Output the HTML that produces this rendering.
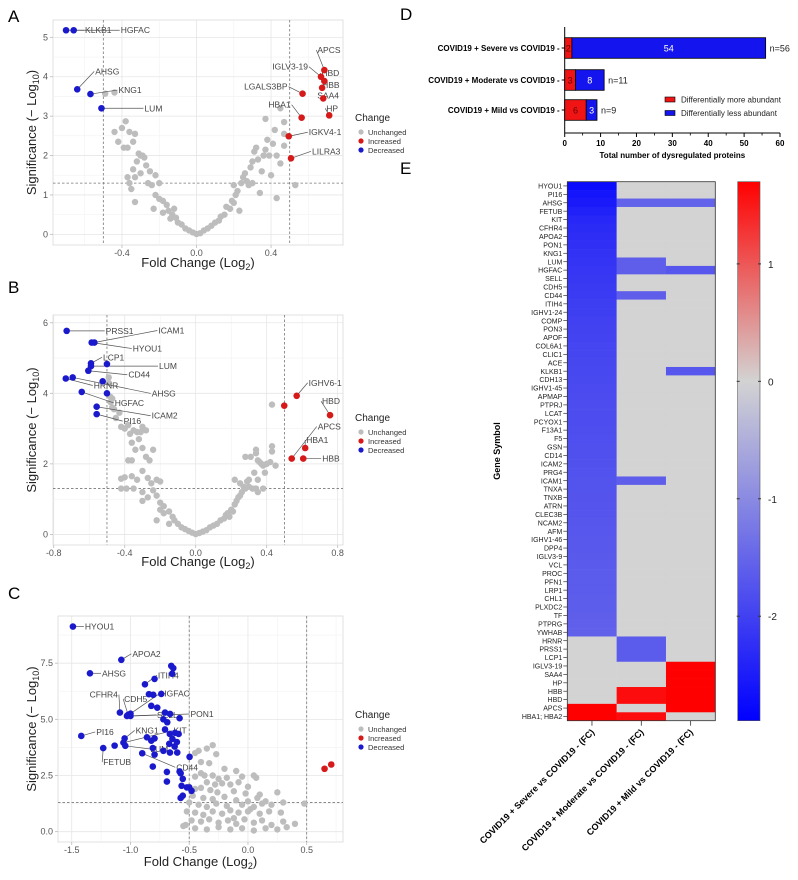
<!DOCTYPE html>
<html><head><meta charset="utf-8"><style>
body{margin:0;background:#fff;}
svg{display:block;font-family:"Liberation Sans",Arial,sans-serif;}
</style></head><body>
<svg id="fig" width="798" height="880" viewBox="0 0 798 880" xmlns="http://www.w3.org/2000/svg"></svg>
<script>
// ---------- Panel A data ----------
const aBlueX=[-0.70,-0.659,-0.64,-0.569,-0.51];
const aBlueY=[5.18,5.18,3.68,3.56,3.2];
const aBlueNames=["KLKB1","HGFAC","AHSG","KNG1","LUM"];
const aRedX=[0.686,0.668,0.686,0.674,0.68,0.569,0.712,0.564,0.495,0.507];
const aRedY=[4.17,4.0,3.89,3.72,3.45,3.57,3.02,2.96,2.49,1.93];
const aRedNames=["APCS","IGLV3-19","HBD","HBB","SAA4","LGALS3BP","HP","HBA1","IGKV4-1","LILRA3"];
const aGreyX=[-0.38,-0.4,-0.44,-0.36,-0.42,-0.39,-0.37,-0.34,-0.33,-0.31,-0.3,-0.29,-0.28,-0.32,-0.27,-0.34,-0.37,-0.33,-0.36,-0.25,-0.22,-0.3,-0.35,-0.33,-0.26,-0.24,-0.2,-0.22,-0.2,-0.23,-0.18,-0.16,-0.18,-0.15,-0.13,-0.14,-0.11,-0.1,-0.08,-0.06,-0.04,-0.02,0,-0.12,-0.49,-0.44,
0.02,0.04,0.06,0.08,0.1,0.12,0.13,0.15,0.16,0.18,0.19,0.2,0.21,0.22,0.23,0.2,0.24,0.25,0.26,0.27,0.28,0.29,0.3,0.31,0.32,0.3,0.33,0.34,0.35,0.36,0.37,0.38,0.39,0.37,0.4,0.41,0.42,0.43,0.43,0.45,0.47,0.47,0.47,0.53,0.45];
const aGreyY=[2.87,2.7,2.6,2.6,2.35,2.2,2.2,2.35,2.55,2.05,2.0,2.0,1.95,1.85,1.75,1.65,1.45,1.45,1.3,1.6,1.5,1.55,1.15,0.82,1.3,1.25,1.3,1.0,0.9,0.65,0.85,0.75,0.55,0.6,0.5,0.4,0.42,0.3,0.25,0.15,0.1,0.05,0.01,0.65,3.57,3.6,
0.03,0.1,0.15,0.22,0.3,0.35,0.45,0.5,0.7,0.65,0.85,0.8,1.0,1.1,0.6,1.25,1.3,1.45,1.55,1.35,1.25,1.7,1.85,2.1,2.2,1.3,1.9,1.05,1.6,2.0,2.15,2.4,2.0,2.93,1.5,2.3,2.65,2.0,0.92,3.2,2.85,2.25,2.55,1.25,1.8];
const aXTicks=[-0.4,0.0,0.4];
const aXTickLabels=["-0.4","0.0","0.4"];
const aYTicks=[0,1,2,3,4,5];
const aYTickLabels=["0","1","2","3","4","5"];
// label offsets (px) per labelled point
const aLabels=[["KLKB1",19,0,"start",0],["HGFAC",47,0,"start",1],["AHSG",18,-18,"start",2],["KNG1",28,-4,"start",3],["LUM",43,0,"start",4]];
const aLabelsR=[["APCS",-7,-20,"start",0],["IGLV3-19",-13,-10,"end",1],["HBD",-3,-8,"start",2],["HBB",0,-3,"start",3],["SAA4",-6,-3,"start",4],["LGALS3BP",-15,-7,"end",5],["HP",-3,-7,"start",6],["HBA1",-11,-13,"end",7],["IGKV4-1",20,-4,"start",8],["LILRA3",21,-7,"start",9]];

// ---------- Panel B data ----------
const bBlueX=[-0.727,-0.571,-0.586,-0.59,-0.59,-0.50,-0.605,-0.732,-0.693,-0.524,-0.50,-0.642,-0.558,-0.558];
const bBlueY=[5.77,5.44,5.44,4.85,4.77,4.83,4.64,4.42,4.45,4.34,4.0,4.04,3.62,3.41];
const bRedX=[0.569,0.499,0.757,0.541,0.617,0.606];
const bRedY=[3.93,3.65,3.38,2.15,2.45,2.15];
const bGreyX=[0.43,-0.49,-0.49,-0.48,-0.47,-0.46,-0.45,-0.43,-0.42,-0.40,-0.38,-0.37,-0.35,-0.33,-0.31,-0.3,-0.28,-0.36,-0.34,-0.32,-0.3,-0.28,-0.26,-0.24,-0.38,-0.36,-0.42,-0.40,-0.36,-0.33,-0.3,-0.27,-0.25,-0.22,-0.2,-0.42,-0.39,-0.35,-0.3,-0.27,-0.3,-0.24,-0.22,-0.2,-0.18,-0.2,-0.18,-0.15,-0.13,-0.12,-0.1,-0.08,-0.06,-0.04,-0.02,0,-0.22,-0.15,-0.48,-0.47,
0.02,0.04,0.06,0.08,0.1,0.12,0.14,0.16,0.17,0.18,0.19,0.2,0.21,0.22,0.23,0.24,0.25,0.26,0.27,0.28,0.29,0.3,0.22,0.25,0.3,0.32,0.34,0.35,0.38,0.35,0.33,0.28,0.31,0.34,0.35,0.36,0.37,0.34,0.38,0.39,0.4,0.42,0.43,0.43,0.45];
const bGreyY=[3.68,4.45,4.3,3.9,3.85,3.55,3.3,3.45,3.05,3.0,3.1,2.85,2.95,2.9,2.9,3.05,2.95,2.6,2.4,2.7,2.45,2.2,2.1,2.4,2.1,2.1,1.58,1.62,1.65,1.55,1.8,1.6,1.45,1.55,1.5,1.3,1.3,1.3,1.2,1.05,0.95,1.25,1.1,0.9,0.8,0.7,0.6,0.65,0.5,0.4,0.3,0.2,0.15,0.1,0.05,0.01,0.4,0.3,3.75,3.6,
0.04,0.08,0.12,0.2,0.25,0.3,0.4,0.45,0.55,0.6,0.5,0.7,0.65,0.85,0.95,1.05,1.1,1.2,1.35,1.3,1.5,1.35,1.55,1.45,1.55,1.3,1.3,1.2,1.3,1.55,1.75,2.2,2.2,2.3,2.1,2.05,2.0,2.4,1.95,1.75,2.0,2.05,2.5,2.35,1.95];
const bXTicks=[-0.8,-0.4,0.0,0.4,0.8];
const bXTickLabels=["-0.8","-0.4","0.0","0.4","0.8"];
const bYTicks=[0,2,4,6];
const bYTickLabels=["0","2","4","6"];
const bLabels=[["PRSS1",39,0,"start",0],["ICAM1",64,-12,"start",1],["HYOU1",41,6,"start",2],["LCP1",12,-6,"start",3],["LUM",68,0,"start",4],["CD44",40,4,"start",6],["HRNR",28,7,"start",7],["AHSG",79,16,"start",8],["HGFAC",33,11,"start",11],["ICAM2",55,9,"start",12],["PI16",27,7,"start",13]];
const bLabelsR=[["IGHV6-1",12,-13,"start",0],["HBD",-8,-14,"start",2],["APCS",26,-32,"start",3],["HBA1",1,-8,"start",4],["HBB",19,0,"start",5]];

// ---------- Panel C data ----------
const cBlueX=[-1.49,-1.078,-1.345,-0.653,-0.636,-0.645,-0.795,-0.877,-0.843,-0.806,-0.738,-0.823,-0.772,-1.09,-1.02,-1.0,-1.03,-1.0,-0.663,-0.706,-0.582,-0.72,-0.687,-1.419,-1.05,-1.06,-1.044,-1.135,-1.232,-0.706,-0.62,-0.59,-0.665,-0.643,-0.86,-0.795,-0.823,-0.605,-0.67,-0.624,-0.81,-0.72,-0.664,-0.602,-0.9,-0.795,-0.497,-0.81,-0.582,-0.69,-0.573,-0.555,-0.69,-0.565,-0.52,-0.5,-0.48,-0.555,-0.573];
const cBlueY=[9.13,7.65,7.05,7.38,7.28,7.03,6.8,6.56,6.12,6.09,6.13,5.6,5.52,5.3,5.2,5.25,5.15,5.15,5.24,5.3,5.05,5.0,4.87,4.26,4.15,3.96,3.82,3.83,3.72,4.55,4.4,4.35,4.35,4.13,4.2,4.15,4.05,3.99,3.91,3.79,3.72,3.6,3.52,3.52,3.49,3.43,3.33,2.9,2.68,2.66,2.6,2.35,2.23,2.04,1.97,1.97,1.82,1.6,1.5];
const cRedX=[0.652,0.709];
const cRedY=[2.8,2.99];
const cGreyX=[-0.3,-0.42,-0.45,-0.35,-0.27,-0.4,-0.33,-0.2,-0.1,-0.3,-0.45,-0.4,-0.37,-0.25,-0.18,-0.05,0.05,0.07,-0.35,-0.28,-0.22,-0.15,-0.08,-0.5,-0.45,-0.4,-0.32,-0.26,-0.12,-0.02,0.1,0.25,-0.47,-0.38,-0.3,-0.2,-0.1,0.0,0.08,0.15,-0.5,-0.42,-0.35,-0.27,-0.18,-0.05,0.05,0.12,0.2,0.3,0.48,-0.52,-0.45,-0.38,-0.3,-0.22,-0.15,-0.08,0.0,0.1,0.18,0.28,-0.53,-0.48,-0.4,-0.33,-0.25,-0.17,-0.1,-0.03,0.05,0.12,0.2,0.3,0.4,-0.45,-0.35,-0.25,-0.15,-0.05,0.05,0.15,0.25,0.33,-0.55,0.0,0.02,-0.12];
const cGreyY=[3.85,3.6,3.5,3.7,3.45,3.1,3.05,2.8,2.7,2.5,2.45,2.6,2.5,2.35,2.4,2.45,2.5,2.4,2.2,2.1,2.15,2.1,2.2,2.0,1.9,1.95,1.85,1.75,1.8,1.7,1.65,1.75,1.6,1.5,1.45,1.55,1.4,1.35,1.5,1.35,1.3,1.2,1.1,1.25,1.15,1.2,1.1,1.25,1.2,1.3,1.25,0.9,0.85,0.75,0.9,0.8,0.95,0.85,0.9,0.8,0.9,0.85,0.3,0.5,0.45,0.55,0.4,0.5,0.35,0.55,0.4,0.5,0.3,0.45,0.35,0.15,0.1,0.2,0.1,0.15,0.05,0.15,0.1,0.2,0.25,2.0,1.0,0.6];
const cXTicks=[-1.5,-1.0,-0.5,0.0,0.5];
const cXTickLabels=["-1.5","-1.0","-0.5","0.0","0.5"];
const cYTicks=[0,2.5,5,7.5];
const cYTickLabels=["0.0","2.5","5.0","7.5"];
const cLabels=[["HYOU1",12,0,"start",0],["APOA2",11,-6,"start",1],["AHSG",12,0,"start",2],["ITIH4",13,-9,"start",7],["CFHR4",-2,-18,"end",13],["CDH5",-4,-16,"start",14],["HGFAC",30,-20,"start",15],["SELL",30,-1,"start",16],["PON1",60,-2,"start",17],["PI16",15,-4,"start",23],["KNG1",11,-8,"start",24],["KIT",50,-12,"start",25],["LUM",25,3,"start",26],["FETUB",0,14,"start",28],["CD44",34,14,"start",44]];

// ---------- Panel D data ----------
const dCategories=["COVID19 + Severe vs COVID19 -","COVID19 + Moderate vs COVID19 -","COVID19 + Mild vs COVID19 -"];
const dMore=[2,3,6];
const dLess=[54,8,3];
const dTicks=[0,10,20,30,40,50,60];

// ---------- Panel E data ----------
const eGenes=["HYOU1","PI16","AHSG","FETUB","KIT","CFHR4","APOA2","PON1","KNG1","LUM","HGFAC","SELL","CDH5","CD44","ITIH4","IGHV1-24","COMP","PON3","APOF","COL6A1","CLIC1","ACE","KLKB1","CDH13","IGHV1-45","APMAP","PTPRJ","LCAT","PCYOX1","F13A1","F5","GSN","CD14","ICAM2","PRG4","ICAM1","TNXA","TNXB","ATRN","CLEC3B","NCAM2","AFM","IGHV1-46","DPP4","IGLV3-9","VCL","PROC","PFN1","LRP1","CHL1","PLXDC2","TF","PTPRG","YWHAB","HRNR","PRSS1","LCP1","IGLV3-19","SAA4","HP","HBB","HBD","APCS","HBA1; HBA2"];
const eSevere=[-2.75,-2.6,-2.55,-2.45,-2.35,-2.3,-2.28,-2.25,-2.2,-2.18,-2.15,-2.12,-2.1,-2.08,-2.05,-2.03,-2.0,-1.98,-1.97,-1.95,-1.93,-1.92,-1.9,-1.89,-1.88,-1.86,-1.85,-1.84,-1.83,-1.82,-1.81,-1.8,-1.79,-1.78,-1.77,-1.76,-1.75,-1.74,-1.73,-1.72,-1.71,-1.7,-1.69,-1.68,-1.67,-1.66,-1.65,-1.64,-1.63,-1.62,-1.61,-1.6,-1.59,-1.58,0,0,0,0,0,0,0,0,1.7,1.7];
const eModerate=[0,0,-1.55,0,0,0,0,0,0,-1.6,-1.6,0,0,-1.6,0,0,0,0,0,0,0,0,0,0,0,0,0,0,0,0,0,0,0,0,0,-1.6,0,0,0,0,0,0,0,0,0,0,0,0,0,0,0,0,0,0,-1.65,-1.65,-1.65,0,0,0,1.6,1.6,0,1.6];
const eMild=[0,0,-1.55,0,0,0,0,0,0,0,-1.7,0,0,0,0,0,0,0,0,0,0,0,-1.7,0,0,0,0,0,0,0,0,0,0,0,0,0,0,0,0,0,0,0,0,0,0,0,0,0,0,0,0,0,0,0,0,0,0,1.7,1.7,1.7,1.7,1.7,1.7,0];
const eColumns=["COVID19 + Severe vs COVID19 - (FC)","COVID19 + Moderate vs COVID19 - (FC)","COVID19 + Mild vs COVID19 - (FC)"];
const eScaleTicks=[1,0,-1,-2];

// ---------- drawing ----------
const NS="http://www.w3.org/2000/svg";
const svg=document.getElementById("fig");
function mk(tag,attrs,parent,text){const e=document.createElementNS(NS,tag);for(const k in attrs)e.setAttribute(k,attrs[k]);if(text!==undefined)e.textContent=text;(parent||svg).appendChild(e);return e;}

function panelLetter(t,x,y){
  const e=mk("text",{x:x,y:y,"font-size":17,fill:"#000"},svg,t);
  
  
}

function volcano(id,box,dom,xt,xtl,yt,ytl,grey,blue,red,labelsB,labelsR,minorX,minorY,legY,xTitleY){
  const g=mk("g",{});
  
  
  const sx=v=>box.x0+(v-dom.xmin)/(dom.xmax-dom.xmin)*(box.x1-box.x0);
  const sy=v=>box.y1-(v-dom.ymin)/(dom.ymax-dom.ymin)*(box.y1-box.y0);
  mk("rect",{x:box.x0,y:box.y0,width:box.x1-box.x0,height:box.y1-box.y0,fill:"#fff",stroke:"#d9d9d9","stroke-width":0.8},g);
  minorX.forEach(v=>{const l=mk("line",{x1:sx(v),x2:sx(v),y1:box.y0,y2:box.y1,stroke:"#f2f2f2","stroke-width":0.6},g);});
  minorY.forEach(v=>{mk("line",{y1:sy(v),y2:sy(v),x1:box.x0,x2:box.x1,stroke:"#f2f2f2","stroke-width":0.6},g);});
  xt.forEach((v,i)=>{
    mk("line",{x1:sx(v),x2:sx(v),y1:box.y0,y2:box.y1,stroke:"#e6e6e6","stroke-width":0.8},g);
    mk("line",{x1:sx(v),x2:sx(v),y1:box.y1,y2:box.y1+3,stroke:"#bbb","stroke-width":0.8},g);
    const t=mk("text",{x:sx(v),y:box.y1+11,"font-size":9,fill:"#555","text-anchor":"middle"},g,xtl[i]);
    
    
  });
  yt.forEach((v,i)=>{
    mk("line",{y1:sy(v),y2:sy(v),x1:box.x0,x2:box.x1,stroke:"#e6e6e6","stroke-width":0.8},g);
    mk("line",{y1:sy(v),y2:sy(v),x1:box.x0-3,x2:box.x0,stroke:"#bbb","stroke-width":0.8},g);
    const t=mk("text",{x:box.x0-5,y:sy(v)+3,"font-size":9,fill:"#555","text-anchor":"end"},g,ytl[i]);
    
    
  });
  // thresholds
  [-0.5,0.5].forEach(v=>{mk("line",{x1:sx(v),x2:sx(v),y1:box.y0,y2:box.y1,stroke:"#777","stroke-width":0.8,"stroke-dasharray":"2.5,2"},g);});
  mk("line",{x1:box.x0,x2:box.x1,y1:sy(1.3),y2:sy(1.3),stroke:"#777","stroke-width":0.8,"stroke-dasharray":"2.5,2"},g);
  grey[0].forEach((v,i)=>{
    const c=mk("circle",{cx:sx(v),cy:sy(grey[1][i]),r:3.2,fill:"#bdbdbd"},g);
    
    
  });
  function lbls(arr,xs,ys){
    arr.forEach(L=>{
      const px=sx(xs[L[4]]),py=sy(ys[L[4]]);
      const tx=px+L[1],ty=py+L[2];
      const ex=L[3]==="end"?tx+1:tx-1;
      if(Math.abs(L[1])>6||Math.abs(L[2])>6) mk("line",{x1:px,y1:py,x2:ex,y2:ty,stroke:"#555","stroke-width":0.7},g);
      const t=mk("text",{x:tx,y:ty+3,"font-size":8.5,fill:"#444","text-anchor":L[3]},g,L[0]);
      
      
    });
  }
  lbls(labelsB,blue[0],blue[1]);
  lbls(labelsR,red[0],red[1]);
  blue[0].forEach((v,i)=>{
    const c=mk("circle",{cx:sx(v),cy:sy(blue[1][i]),r:3.3,fill:"#1a1acc"},g);
    
    
  });
  red[0].forEach((v,i)=>{
    const c=mk("circle",{cx:sx(v),cy:sy(red[1][i]),r:3.3,fill:"#d61a1a"},g);
    
    
  });
  const yt2=mk("text",{x:0,y:0,"font-size":13,fill:"#222","text-anchor":"middle",transform:`translate(36,${(box.y0+box.y1)/2}) rotate(-90)`},g);
  yt2.innerHTML='Significance (− Log<tspan font-size="9" dy="3">10</tspan><tspan dy="-3">)</tspan>';
  
  
  const xt2=mk("text",{x:(box.x0+box.x1)/2,y:xTitleY,"font-size":13,fill:"#222","text-anchor":"middle"},g);
  xt2.innerHTML='Fold Change (Log<tspan font-size="9" dy="3">2</tspan><tspan dy="-3">)</tspan>';
  
  
  // legend
  const lg=mk("g",{},g);
  
  
  mk("text",{x:355,y:legY,"font-size":10,fill:"#222"},lg,"Change");
  [["Unchanged","#bdbdbd"],["Increased","#d61a1a"],["Decreased","#1a1acc"]].forEach((e,i)=>{
    const yy=legY+11+i*9;
    mk("circle",{cx:361,cy:yy,r:2.6,fill:e[1]},lg);
    const t=mk("text",{x:368,y:yy+2.8,"font-size":7.5,fill:"#333"},lg,e[0]);
    
    
  });
}

panelLetter("A",8,22);
volcano("a",{x0:53,x1:343,y0:20,y1:245},{xmin:-0.77,xmax:0.786,ymin:-0.27,ymax:5.44},
  aXTicks,aXTickLabels,aYTicks,aYTickLabels,[aGreyX,aGreyY],[aBlueX,aBlueY],[aRedX,aRedY],aLabels,aLabelsR,
  [-0.6,-0.2,0.2,0.6],[0.5,1.5,2.5,3.5,4.5],121,267);
panelLetter("B",8,293);
volcano("b",{x0:53,x1:343,y0:315,y1:545},{xmin:-0.804,xmax:0.83,ymin:-0.30,ymax:6.22},
  bXTicks,bXTickLabels,bYTicks,bYTickLabels,[bGreyX,bGreyY],[bBlueX,bBlueY],[bRedX,bRedY],bLabels,bLabelsR,
  [-0.6,-0.2,0.2,0.6],[1,3,5],421,566);
panelLetter("C",8,599);
volcano("c",{x0:58,x1:343,y0:616,y1:842},{xmin:-1.617,xmax:0.809,ymin:-0.46,ymax:9.6},
  cXTicks,cXTickLabels,cYTicks,cYTickLabels,[cGreyX,cGreyY],[cBlueX,cBlueY],[cRedX,cRedY],cLabels,[],
  [-1.25,-0.75,-0.25,0.25,0.75],[1.25,3.75,6.25,8.75],718,866);

// ---------- Panel D ----------
panelLetter("D",400,20);
(function(){
  const g=mk("g",{});
  
  
  const x0=564.7,x1=780,yTop=27,yBase=133;
  const sx=v=>x0+v/60*(x1-x0);
  const centers=[48,80,110];
  const bh=20.6;
  mk("line",{x1:x0,x2:x0,y1:yTop,y2:yBase,stroke:"#000","stroke-width":1},g);
  mk("line",{x1:x0,x2:x1,y1:yBase,y2:yBase,stroke:"#000","stroke-width":1},g);
  dTicks.forEach(v=>{
    mk("line",{x1:sx(v),x2:sx(v),y1:yBase,y2:yBase+4,stroke:"#000","stroke-width":1},g);
    if(v<60) mk("line",{x1:sx(v+5),x2:sx(v+5),y1:yBase,y2:yBase+2.5,stroke:"#000","stroke-width":0.8},g);
    const t=mk("text",{x:sx(v),y:yBase+13,"font-size":8,"font-weight":"bold","text-anchor":"middle"},g,String(v));
    
    
  });
  const tt=mk("text",{x:(x0+x1)/2,y:158,"font-size":8,"font-weight":"bold","text-anchor":"middle"},g,"Total number of dysregulated proteins");
  
  
  dCategories.forEach((c,i)=>{
    const cy=centers[i];
    mk("line",{x1:x0-3,x2:x0,y1:cy,y2:cy,stroke:"#000"},g);
    const t=mk("text",{x:x0-5,y:cy+3,"font-size":8,"font-weight":"bold","text-anchor":"end"},g,c);
    
    
    const r=mk("rect",{x:sx(0),y:cy-bh/2,width:sx(dMore[i])-sx(0),height:bh,fill:"#f01414",stroke:"#000","stroke-width":0.8},g);
    
    
    const b=mk("rect",{x:sx(dMore[i]),y:cy-bh/2,width:sx(dLess[i])-sx(0),height:bh,fill:"#1414ee",stroke:"#000","stroke-width":0.8},g);
    
    
    mk("text",{x:(sx(0)+sx(dMore[i]))/2,y:cy+3.5,"font-size":9,fill:"#600","text-anchor":"middle"},g,String(dMore[i]));
    mk("text",{x:(sx(dMore[i])+sx(dMore[i]+dLess[i]))/2,y:cy+3.5,"font-size":9,fill:"#fff","text-anchor":"middle"},g,String(dLess[i]));
    const n=mk("text",{x:sx(dMore[i]+dLess[i])+4,y:cy+3.5,"font-size":9,fill:"#222"},g,"n="+(dMore[i]+dLess[i]));
    
    
  });
  const lg=mk("g",{},g);
  
  
  mk("rect",{x:665,y:97,width:10,height:5,fill:"#f01414",stroke:"#000","stroke-width":0.6},lg);
  mk("text",{x:681,y:102.5,"font-size":8,fill:"#222"},lg,"Differentially more abundant");
  mk("rect",{x:665,y:110.5,width:10,height:5,fill:"#1414ee",stroke:"#000","stroke-width":0.6},lg);
  mk("text",{x:681,y:116,"font-size":8,fill:"#222"},lg,"Differentially less abundant");
})();

// ---------- Panel E ----------
panelLetter("E",400,174);
(function(){
  const g=mk("g",{});
  
  
  const x0=567.3,x1=715.3,y0=181.7,y1=720.7;
  const cw=(x1-x0)/3, rh=(y1-y0)/eGenes.length;
  const vmax=1.7,vmin=-2.89;
  function col(v){
    const G=[211,211,211];
    let t,T;
    if(v>=0){t=Math.min(v/vmax,1);T=[255,0,0];}else{t=Math.min(v/vmin,1);T=[0,0,255];}
    return `rgb(${Math.round(G[0]+(T[0]-G[0])*t)},${Math.round(G[1]+(T[1]-G[1])*t)},${Math.round(G[2]+(T[2]-G[2])*t)})`;
  }
  const cols=[eSevere,eModerate,eMild];
  cols.forEach((arr,c)=>{
    arr.forEach((v,r)=>{
      const rc=mk("rect",{x:x0+c*cw,y:y0+r*rh,width:cw+0.3,height:rh+0.3,fill:col(v)},g);
      
      
    });
  });
  mk("rect",{x:x0,y:y0,width:x1-x0,height:y1-y0,fill:"none",stroke:"#333","stroke-width":0.8},g);
  eGenes.forEach((n,r)=>{
    const cy=y0+(r+0.5)*rh;
    mk("line",{x1:x0-4,x2:x0,y1:cy,y2:cy,stroke:"#333","stroke-width":0.7},g);
    const t=mk("text",{x:x0-5,y:cy+2.6,"font-size":7,fill:"#222","text-anchor":"end"},g,n);
    
    
  });
  const gs=mk("text",{x:0,y:0,"font-size":9,"font-weight":"bold","text-anchor":"middle",transform:"translate(500,451) rotate(-90)"},g,"Gene Symbol");
  
  
  eColumns.forEach((c,i)=>{
    const cx=x0+(i+0.5)*cw;
    mk("line",{x1:cx,x2:cx,y1:y1,y2:y1+5,stroke:"#333","stroke-width":0.8},g);
    const t=mk("text",{x:0,y:0,"font-size":9,"font-weight":"bold","text-anchor":"end",transform:`translate(${cx+3},${y1+12}) rotate(-45)`},g,c);
    
    
  });
  // colorbar
  const cb=mk("g",{},g);
  
  
  const defs=mk("defs",{},cb);
  const lgd=mk("linearGradient",{id:"cbg",x1:0,y1:0,x2:0,y2:1},defs);
  const bx0=737.7,bx1=760;
  const sy=v=>y0+(vmax-v)/(vmax-vmin)*(y1-y0);
  mk("stop",{offset:0,"stop-color":"#ff0000"},lgd);
  mk("stop",{offset:(sy(0)-y0)/(y1-y0),"stop-color":"#d3d3d3"},lgd);
  mk("stop",{offset:1,"stop-color":"#0000ff"},lgd);
  mk("rect",{x:bx0,y:y0,width:bx1-bx0,height:y1-y0,fill:"url(#cbg)",stroke:"#555","stroke-width":0.6},cb);
  eScaleTicks.forEach(v=>{
    const yy=sy(v);
    mk("line",{x1:bx0-1,x2:bx0+2,y1:yy,y2:yy,stroke:"#333"},cb);
    mk("line",{x1:bx1-2,x2:bx1+1,y1:yy,y2:yy,stroke:"#333"},cb);
    const t=mk("text",{x:bx1+8,y:yy+4,"font-size":10,fill:"#222"},cb,String(v));
    
    
  });
})();
</script>
</body></html>
